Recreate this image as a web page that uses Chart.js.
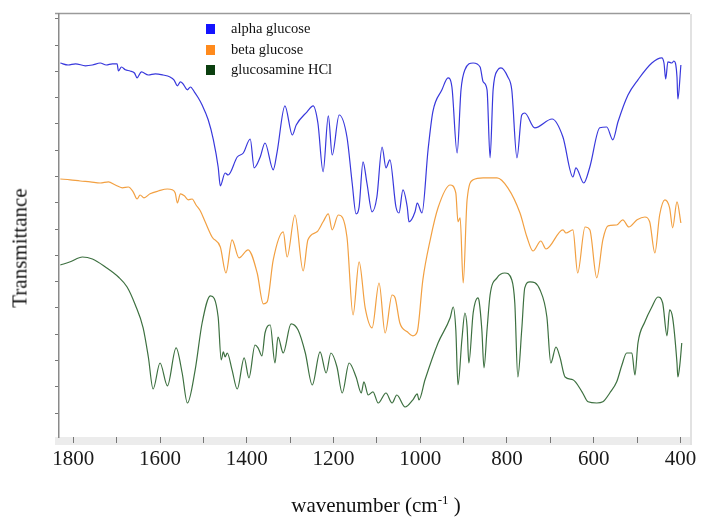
<!DOCTYPE html>
<html>
<head>
<meta charset="utf-8">
<script src="https://cdn.jsdelivr.net/npm/chart.js@4.4.1/dist/chart.umd.min.js"></script>
<style>
    body { margin: 0; background: #fff; }
    #wrap { position: relative; width: 702px; height: 520px; font-family: 'Liberation Serif', serif; }
    #legend { position: absolute; left: 206px; top: 18px; font-size: 14.5px; color: #111; }
    #legend div { height: 20.5px; line-height: 20px; white-space: nowrap; }
    #legend span.box { display: inline-block; width: 9px; height: 10px; margin-right: 16px; vertical-align: -1px; }
    #ytitle { position: absolute; left: 20px; top: 248px; transform: translate(-50%, -50%) rotate(-90deg); font-size: 21px; color: #111; white-space: nowrap; }
    #xtitle { position: absolute; left: 376px; top: 492px; transform: translateX(-50%); font-size: 21px; color: #111; white-space: nowrap; }
    #xtitle sup { font-size: 13px; vertical-align: 8px; }
</style>
</head>
<body>
<div id="wrap">
    <canvas id="irChart" width="702" height="520"></canvas>
    <div id="legend"></div>
    <div id="ytitle">Transmittance</div>
    <div id="xtitle">wavenumber (cm<sup>-1</sup> )</div>
</div>
<script>
// Spektrum IR
const alphaWn = [1830, 1812, 1795, 1772, 1756, 1738, 1724, 1710, 1699, 1696, 1689, 1680, 1669, 1659, 1653, 1643, 1627, 1611, 1593, 1577, 1568, 1560, 1553, 1547, 1537, 1530, 1521, 1512, 1503,
    1489, 1477, 1466, 1461, 1450, 1443, 1422, 1408, 1392, 1383, 1369, 1358, 1339, 1330, 1312, 1295, 1286, 1261, 1247, 1236, 1224, 1212, 1203, 1187, 1169, 1157, 1148, 1141, 1132, 1123,
    1111, 1100, 1088, 1079, 1070, 1056, 1049, 1040, 1030, 1026, 1012, 1007, 996, 982, 971, 950, 936, 927, 915, 906, 897, 878, 862, 855, 846, 839, 832, 821, 814, 798, 789, 777, 766, 759,
    736, 696, 671, 648, 641, 623, 609, 586, 570, 556, 544, 521, 498, 466, 443, 438, 434, 429, 420, 415, 408, 406, 399];
const alphaT = [93.5, 93, 93.3, 92.8, 93, 93.5, 93, 93.3, 93.3, 91.5, 92.5, 91.8, 91.5, 91, 89.8, 91.3, 90.5, 90.8, 90.5, 90, 89.3, 87.8, 88.8, 88.3, 86.8, 87.5, 86.3, 84.8, 83,
    79.3, 74.3, 67.5, 62.8, 66, 65.5, 70, 71, 74.5, 67.3, 70, 73.5, 66.8, 71.3, 82.8, 75.5, 78, 81.3, 82.8, 78.5, 66.3, 80.3, 70.5, 80.5, 75, 63.5, 55.8, 57.5, 68.8, 63.5,
    56.3, 60, 72.5, 67.3, 69.3, 57.5, 56, 61.8, 57.5, 53.8, 56.3, 58.5, 56, 71.8, 81.3, 86.8, 89.8, 87.5, 71, 86.8, 91.8, 93.5, 92.5, 88.8, 86.8, 69.8, 86.8, 91.8, 92.3, 90, 86.8, 69.8, 80.5, 81,
    77.3, 79.5, 75, 65, 67.3, 63.5, 67.5, 77.3, 77.5, 74.3, 78.8, 85.5, 89.3, 93.5, 94.8, 93.5, 89.5, 93.8, 93.5, 94, 90, 84.5, 93];

const betaWn = [1830, 1807, 1784, 1761, 1738, 1719, 1703, 1687, 1673, 1662, 1653, 1646, 1637, 1623, 1604, 1583, 1572, 1565, 1560, 1553, 1544, 1535, 1526, 1517, 1507, 1496,
    1480, 1461, 1448, 1434, 1418, 1397, 1376, 1362, 1353, 1339, 1316, 1307, 1289, 1270, 1259, 1238, 1224, 1212, 1203, 1189, 1169, 1155, 1141, 1127, 1111, 1095, 1081, 1065, 1058,
    1047, 1030, 1017, 1007, 994, 977, 959, 931, 918, 913, 908, 901, 892, 878, 855, 823, 798, 770, 754, 740, 722, 710, 671, 664, 648, 637, 620, 609, 593, 579, 567, 547, 533, 519,
    500, 482, 471, 459, 448, 436, 425, 418, 408, 399];
const betaT = [64.5, 64.3, 64, 63.8, 63.5, 63.8, 63, 62.3, 62.5, 61.3, 59.5, 60.5, 59.8, 60.8, 61.5, 62, 61.8, 61, 58.5, 60.8, 60.3, 59.3, 59.5, 58, 56.5, 53.8,
    50, 47.5, 41, 49.3, 44.8, 46.8, 41, 33.3, 33.8, 44.3, 51.3, 45, 55.5, 41.5, 49.3, 51.3, 53.8, 55.8, 51.8, 55.5, 50, 30.5, 43.8, 32.3, 27.3, 38.5, 26, 35.5, 34.8,
    28.5, 26.3, 25.3, 26.3, 39.3, 49.3, 57.3, 63, 61, 53.8, 54.8, 38.5, 59.3, 64.3, 64.8, 64.8, 62.3, 56, 50, 46.5, 49, 47, 51.8, 51, 51.8, 41, 52.5, 51.8, 39.8, 49.3, 52.8, 53, 54.3, 52.5,
    54.3, 55, 53.8, 46, 55.5, 59.3, 57.3, 52.3, 58.8, 53.5];

const glucWn = [1830, 1807, 1779, 1756, 1726, 1696, 1676, 1657, 1639, 1627, 1616, 1600, 1583, 1563, 1549, 1537, 1519, 1503, 1484, 1466, 1459, 1454, 1450, 1445, 1434, 1422,
    1406, 1395, 1381, 1374, 1365, 1358, 1346, 1335, 1328, 1316, 1298, 1282, 1265, 1249, 1231, 1217, 1206, 1192, 1180, 1164, 1148, 1136, 1130, 1120, 1109, 1097, 1079, 1065, 1054,
    1035, 1017, 1007, 1003, 989, 959, 931, 924, 918, 913, 904, 897, 892, 888, 878, 867, 864, 858, 853, 846, 839, 823, 805, 789, 782, 775, 766, 759, 747, 724, 708, 699, 687, 678,
    666, 648, 627, 613, 593, 579, 563, 547, 535, 524, 512, 505, 498, 482, 466, 452, 441, 431, 425, 418, 408, 406, 401, 397];
const glucT = [43, 43.8, 45, 44.5, 42.5, 40, 37.5, 33, 27.3, 20, 12, 18.5, 12.8, 22.3, 16, 8.5, 16.8, 28.5, 35.3, 30, 19.3, 21.3, 20, 21, 16.8, 12,
    19.8, 14.8, 23, 22.3, 20.3, 26, 28, 18.5, 25, 21, 28.3, 26.8, 21, 13, 21.3, 16, 21, 17.5, 11, 18.5, 15, 11, 13.8, 10.5, 11.3, 8.5, 11, 8.5, 10.5,
    7.5, 9.3, 10.8, 9.3, 14.3, 23.5, 29.8, 32.5, 26.8, 13, 24.3, 31, 27.5, 18.5, 31, 34.8, 33.8, 26.8, 17.3, 26.8, 35.5, 39.8, 41, 39.3, 33.5, 15, 26.8, 37.3, 38.8, 36.8, 30, 18.5, 22.5, 20,
    15, 14.3, 11.3, 8.8, 8.5, 8.8, 11, 13.8, 18, 21, 21, 15.5, 23.5, 28.8, 32.5, 35, 33.5, 25.3, 31.8, 29.8, 18.5, 15, 18.5, 23.5];

const seriesNames = ['alpha glucose', 'beta glucose', 'glucosamine HCl'];
const lineColors = ['#3838dc', '#f2a042', '#3d7040'];
const legendColors = ['#1414ff', '#ff8a1c', '#0b3f0f'];

const xTickValues = [1800, 1700, 1600, 1500, 1400, 1300, 1200, 1100, 1000, 900, 800, 700, 600, 500, 400];

function toPoints(wn, t) {
    return wn.map((w, i) => ({ x: w, y: t[i] }));
}

// latar abu-abu di bawah sumbu dan garis bingkai
const framePlugin = {
    id: 'frame',
    beforeDraw(chart) {
        const { ctx, chartArea: a } = chart;
        ctx.save();
        ctx.fillStyle = '#ececec';
        ctx.fillRect(55, a.bottom, a.right - 55 + 2, 8);
        ctx.strokeStyle = '#9a9a9a';
        ctx.lineWidth = 1.5;
        ctx.beginPath();
        ctx.moveTo(55, a.top - 0.5);
        ctx.lineTo(a.right, a.top - 0.5);
        ctx.stroke();
        ctx.strokeStyle = '#e2e2e2';
        ctx.lineWidth = 2;
        ctx.beginPath();
        ctx.moveTo(a.right + 1, a.top);
        ctx.lineTo(a.right + 1, a.bottom + 8);
        ctx.stroke();
        ctx.restore();
    }
};

let irChart = null;

function initIrChart() {
    const ctx = document.getElementById('irChart').getContext('2d');
    const sets = [[alphaWn, alphaT], [betaWn, betaT], [glucWn, glucT]];

    irChart = new Chart(ctx, {
        type: 'line',
        data: {
            datasets: sets.map((s, i) => ({
                label: seriesNames[i],
                data: toPoints(s[0], s[1]),
                borderColor: lineColors[i],
                borderWidth: 1.2,
                pointRadius: 0,
                fill: false,
                cubicInterpolationMode: 'monotone'
            }))
        },
        options: {
            responsive: false,
            animation: false,
            layout: {
                padding: { top: 14, right: 12, left: 0, bottom: 0 }
            },
            plugins: {
                legend: { display: false },
                tooltip: { enabled: false }
            },
            scales: {
                x: {
                    type: 'linear',
                    reverse: true,
                    min: 378,
                    max: 1833,
                    afterBuildTicks: scale => {
                        scale.ticks = xTickValues.map(v => ({ value: v }));
                    },
                    afterFit: scale => { scale.height = 83; },
                    grid: {
                        drawOnChartArea: false,
                        drawTicks: true,
                        tickLength: 6,
                        color: '#777'
                    },
                    border: { display: false },
                    ticks: {
                        autoSkip: false,
                        maxRotation: 0,
                        padding: 4,
                        color: '#1a1a1a',
                        font: { family: 'Liberation Serif', size: 21 },
                        callback: v => (v % 200 === 0 ? v : '')
                    }
                },
                y: {
                    min: 0,
                    max: 105.75,
                    afterBuildTicks: scale => {
                        const ticks = [];
                        for (let k = 0; k < 16; k++) ticks.push({ value: 6 + 6.57 * k });
                        scale.ticks = ticks;
                    },
                    afterFit: scale => { scale.width = 59; },
                    grid: {
                        drawOnChartArea: false,
                        drawTicks: true,
                        tickLength: 4,
                        color: '#777'
                    },
                    border: { color: '#8a8a8a', width: 1.5 },
                    ticks: {
                        padding: 0,
                        callback: () => ''
                    }
                }
            }
        },
        plugins: [framePlugin]
    });
}

function buildLegend() {
    const box = document.getElementById('legend');
    seriesNames.forEach((name, i) => {
        const row = document.createElement('div');
        row.innerHTML = '<span class="box" style="background:' + legendColors[i] + '"></span>' + name;
        box.appendChild(row);
    });
}

document.addEventListener('DOMContentLoaded', function() {
    initIrChart();
    buildLegend();
});
</script>
</body>
</html>
